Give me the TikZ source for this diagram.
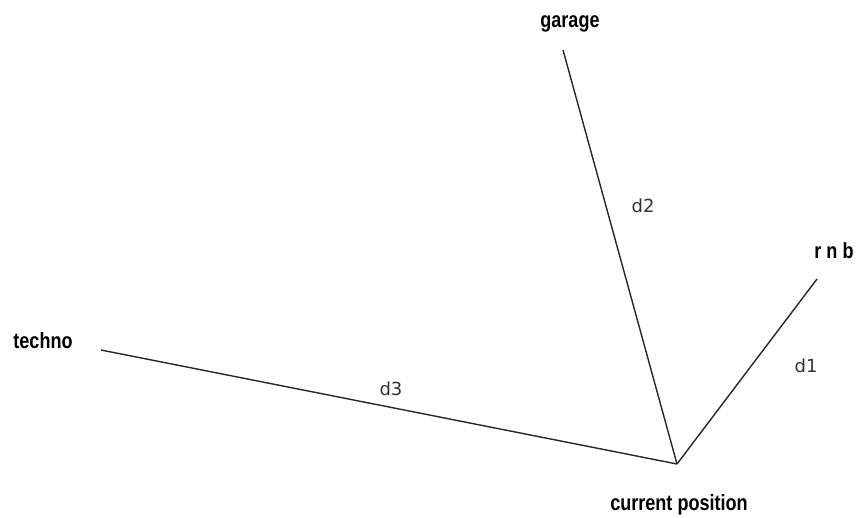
\documentclass[tikz,border=0pt]{standalone}
\usepackage{fontspec}
\setmainfont{DejaVu Sans}
\newfontfamily\placefont[FakeStretch=0.82]{Liberation Sans}
\usetikzlibrary{positioning}

\tikzset{
  place/.style={anchor=base, inner sep=0pt, font=\placefont\bfseries\fontsize{22}{24}\selectfont},
  dist/.style={anchor=base, inner sep=0pt, font=\fontsize{18}{20}\selectfont, text=black!80},
  edge/.style={line width=1.4pt, black!85}
}

\begin{document}
\begin{tikzpicture}[x=1pt, y=-1pt]
  \useasboundingbox (0,0) rectangle (856,517);
  % end points of the distances
  \coordinate (cur) at (677,464);
  \coordinate (garageend) at (563,50);
  \coordinate (rnbend) at (817,279);
  \coordinate (technoend) at (101,350);
  \draw[edge] (cur) -- (garageend);
  \draw[edge] (cur) -- (rnbend);
  \draw[edge] (cur) -- (technoend);
  % places
  \node[place] (garage) at (570,27) {garage};
  \node[place] (rnb) at (834,258) {r n b};
  \node[place] (techno) at (43,348) {techno};
  \node[place] (current) at (679,510) {current position};
  % distance labels
  \node[dist] (d1) at (806,372) {d1};
  \node[dist] (d2) at (643,212) {d2};
  \node[dist] (d3) at (391,395) {d3};
\end{tikzpicture}
\end{document}
